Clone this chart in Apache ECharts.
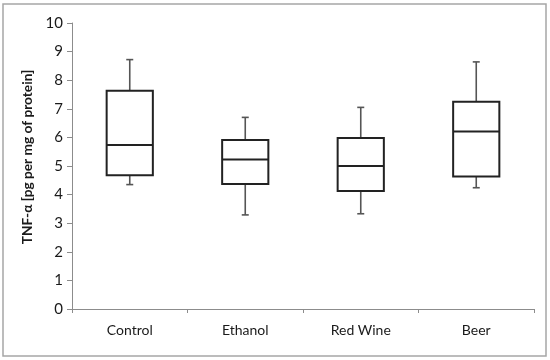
<!DOCTYPE html>
<html>
<head>
<meta charset="utf-8">
<script src="https://cdn.jsdelivr.net/npm/echarts@6/dist/echarts.min.js"></script>
<style>
html,body{margin:0;padding:0;background:#fff;}
#main{width:550px;height:360px;}
</style>
</head>
<body>
<div id="main"></div>
<script>
var categories = ['Control', 'Ethanol', 'Red Wine', 'Beer'];
var lows    = [4.35, 3.29, 3.33, 4.24];
var q1s     = [4.68, 4.37, 4.13, 4.63];
var medians = [5.73, 5.23, 5.00, 6.21];
var q3s     = [7.63, 5.91, 5.98, 7.25];
var highs   = [8.72, 6.70, 7.05, 8.64];
var yTicks  = [0, 1, 2, 3, 4, 5, 6, 7, 8, 9, 10];
var yTitle  = 'TNF-α [pg per mg of protein]';

var data = categories.map(function (c, i) {
  return [i, lows[i], q1s[i], medians[i], q3s[i], highs[i]];
});

var chart = echarts.init(document.getElementById('main'), null, {renderer: 'canvas'});

function renderItem(params, api) {
  var idx = api.value(0);
  var pLow = api.coord([idx, api.value(1)]);
  var pQ1 = api.coord([idx, api.value(2)]);
  var pMed = api.coord([idx, api.value(3)]);
  var pQ3 = api.coord([idx, api.value(4)]);
  var pHigh = api.coord([idx, api.value(5)]);
  var bw = api.size([1, 0])[0] * 0.4;
  var cx = pMed[0];
  var x0 = cx - bw / 2, x1 = cx + bw / 2;
  var cap = 3.5;
  var boxStyle = {stroke: '#222', lineWidth: 2, fill: '#fff'};
  var whiskStyle = {stroke: '#555', lineWidth: 1.6};
  return {
    type: 'group',
    children: [
      {type: 'line', shape: {x1: cx, y1: pHigh[1], x2: cx, y2: pQ3[1]}, style: whiskStyle},
      {type: 'line', shape: {x1: cx - cap, y1: pHigh[1], x2: cx + cap, y2: pHigh[1]}, style: whiskStyle},
      {type: 'line', shape: {x1: cx, y1: pQ1[1], x2: cx, y2: pLow[1]}, style: whiskStyle},
      {type: 'line', shape: {x1: cx - cap, y1: pLow[1], x2: cx + cap, y2: pLow[1]}, style: whiskStyle},
      {type: 'rect', shape: {x: x0, y: pQ3[1], width: bw, height: pQ1[1] - pQ3[1]}, style: boxStyle},
      {type: 'line', shape: {x1: x0, y1: pMed[1], x2: x1, y2: pMed[1]}, style: {stroke: '#222', lineWidth: 2}}
    ]
  };
}

chart.setOption({
  animation: false,
  backgroundColor: '#fff',
  grid: {left: 72, right: 16, top: 23, bottom: 51, containLabel: false},
  graphic: [
    {type: 'rect', shape: {x: 3, y: 4, width: 543, height: 352}, style: {fill: 'none', stroke: '#a6a6a6', lineWidth: 1.5}, silent: true},
    {type: 'text', x: 28, y: 157, rotation: Math.PI / 2,
     style: {text: yTitle, font: 'bold 13.7px Lato, "Open Sans", sans-serif', fill: '#1a1a1a', align: 'center', verticalAlign: 'middle'}}
  ],
  xAxis: {
    type: 'category',
    data: categories,
    boundaryGap: true,
    axisLine: {show: true, lineStyle: {color: '#8c8c8c', width: 1}},
    axisTick: {show: true, inside: false, length: 4, alignWithLabel: false, lineStyle: {color: '#8c8c8c'}},
    axisLabel: {color: '#1a1a1a', fontSize: 14, fontFamily: 'Lato, "Open Sans", sans-serif', margin: 14},
    splitLine: {show: false}
  },
  yAxis: {
    type: 'value',
    min: yTicks[0], max: yTicks[yTicks.length - 1], interval: 1,
    axisLine: {show: true, lineStyle: {color: '#8c8c8c', width: 1}},
    axisTick: {show: true, inside: false, length: 5, lineStyle: {color: '#8c8c8c'}},
    axisLabel: {color: '#1a1a1a', fontSize: 15, fontFamily: 'Lato, "Open Sans", sans-serif', margin: 9},
    splitLine: {show: false}
  },
  series: [{
    type: 'custom',
    renderItem: renderItem,
    encode: {x: 0, y: [1, 2, 3, 4, 5]},
    data: data
  }]
});
</script>
</body>
</html>
